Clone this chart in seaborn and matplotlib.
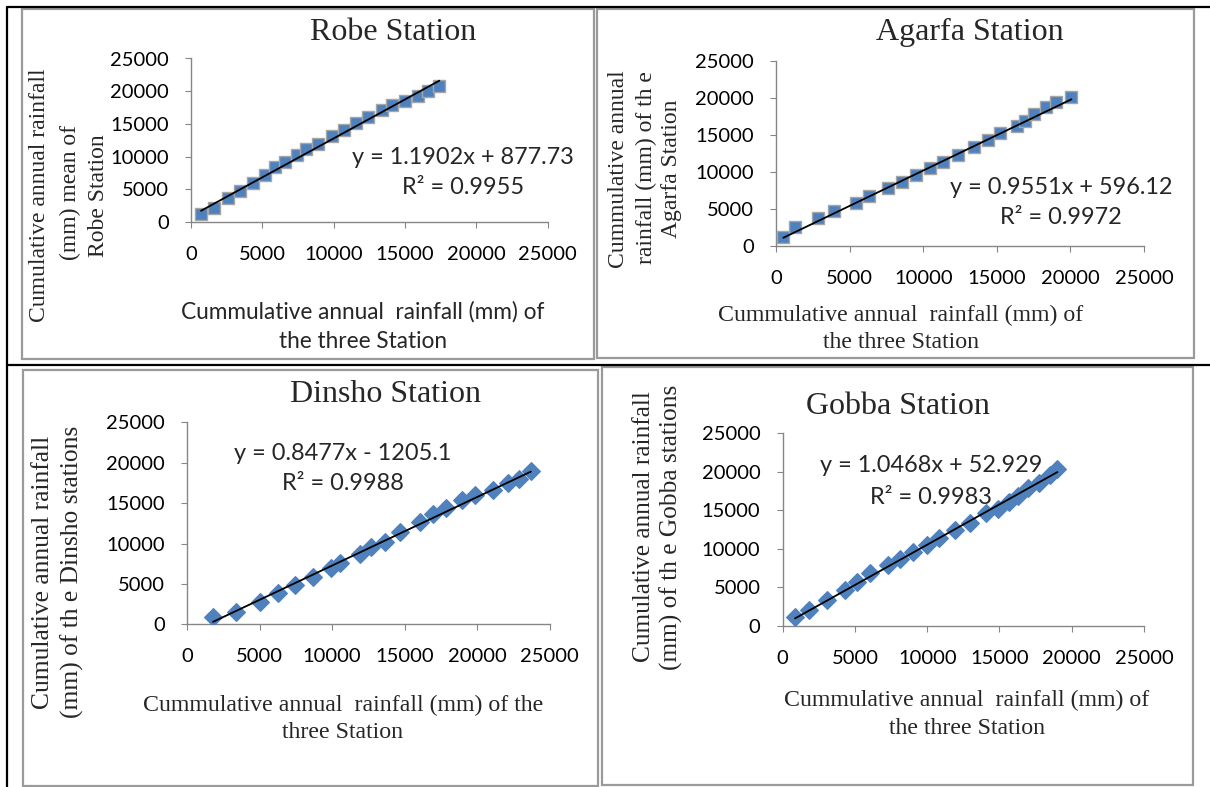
import numpy as np
import pandas as pd
import seaborn as sns
import matplotlib
matplotlib.use("Agg")
import matplotlib.pyplot as plt
from matplotlib.patches import Rectangle
from matplotlib.lines import Line2D

# ---------------- data ----------------
tick_values = [0, 5000, 10000, 15000, 20000, 25000]
tick_labels = ["0", "5000", "10000", "15000", "20000", "25000"]

robe_x = [704, 1643, 2582, 3451, 4319, 5164, 5915, 6573, 7405, 8099, 8920,
          9859, 10728, 11549, 12418, 13427, 14061, 15000, 15939, 16596, 17418]
robe_y = [1173, 2194, 3724, 4745, 6020, 7245, 8418, 9184, 10204, 11224, 11990,
          13112, 14133, 15153, 16071, 17092, 17959, 18520, 19286, 20051, 20816]

agarfa_x = [498, 1290, 2873, 3937, 5430, 6335, 7624, 8529, 9502, 10452, 11357,
            12376, 13439, 14412, 15204, 16380, 16900, 17511, 18371, 19050, 20068]
agarfa_y = [1126, 2568, 3694, 4730, 5811, 6757, 7838, 8559, 9550, 10450, 11351,
            12252, 13378, 14279, 15180, 16171, 16892, 17793, 18784, 19459, 20135]

dinsho_x = [1792, 3401, 5055, 6250, 7468, 8686, 9926, 10570, 11949, 12684, 13672,
            14706, 16039, 16958, 17877, 18957, 19876, 21071, 22128, 22863, 23713]
dinsho_y = [868, 1570, 2810, 3843, 4876, 5826, 6942, 7645, 8678, 9545, 10248,
            11488, 12727, 13678, 14380, 15413, 16033, 16653, 17479, 17975, 18926]

gobba_x = [853, 1845, 3045, 4314, 5167, 6044, 7313, 8120, 8997, 9965, 10842,
           11926, 12964, 14071, 14925, 15686, 16309, 17001, 17762, 18500, 19007]
gobba_y = [1169, 2035, 3333, 4632, 5714, 6797, 7879, 8615, 9610, 10476, 11342,
           12424, 13290, 14589, 15108, 16104, 16840, 17835, 18571, 19567, 20303]

# trendline coefficients: slope, intercept, R²
robe_fit = (1.1902, 877.73, 0.9955)
agarfa_fit = (0.9551, 596.12, 0.9972)
dinsho_fit = (0.8477, -1205.1, 0.9988)
gobba_fit = (1.0468, 52.929, 0.9983)

titles = ["Robe Station", "Agarfa Station", "Dinsho Station", "Gobba Station"]

# ---------------- figure ----------------
sns.set_theme(style="white")
plt.rcParams["font.family"] = ["Lato", "DejaVu Sans"]

W, H = 1210, 787
fig = plt.figure(figsize=(W / 100, H / 100), dpi=100)
fig.patch.set_facecolor("white")

SERIF = ["Liberation Serif", "DejaVu Serif"]
SANS = ["Lato", "DejaVu Sans"]
BLUE = "#4F81BD"
AXIS_GRAY = "#868686"


def fx(x):
    return x / W


def fy(y):
    return 1 - y / H


def make_axes(x0, x1, ytop, ybot):
    return fig.add_axes([fx(x0), fy(ybot), (x1 - x0) / W, (ybot - ytop) / H])


def style_axes(ax):
    ax.set_xlim(0, 25000)
    ax.set_ylim(0, 25000)
    ax.set_xticks(tick_values)
    ax.set_xticklabels(tick_labels)
    ax.set_yticks(tick_values)
    ax.set_yticklabels(tick_labels)
    ax.set_facecolor("none")
    for side in ("top", "right"):
        ax.spines[side].set_visible(False)
    for side in ("left", "bottom"):
        ax.spines[side].set_color(AXIS_GRAY)
        ax.spines[side].set_linewidth(1.0)
    ax.tick_params(axis="both", which="major", direction="out", length=4,
                   width=0.8, color=AXIS_GRAY, labelsize=14.5,
                   labelcolor="black", bottom=True, left=True)
    ax.tick_params(axis="y", pad=12)
    ax.tick_params(axis="x", pad=13.3)
    for lab in ax.get_xticklabels() + ax.get_yticklabels():
        lab.set_fontfamily(SANS)
    ax.set_xlabel("")
    ax.set_ylabel("")
    ax.grid(False)


def draw_station(ax, xs, ys, fit, marker, msize, edge):
    df = pd.DataFrame({"x": xs, "y": ys})
    slope, intercept, _ = fit
    xl = np.array([min(xs), max(xs)], dtype=float)
    line_df = pd.DataFrame({"x": xl, "y": slope * xl + intercept})
    sns.scatterplot(data=df, x="x", y="y", ax=ax, marker=marker, s=msize,
                    color=BLUE, edgecolor=edge, linewidth=1.0, zorder=3,
                    legend=False)
    sns.lineplot(data=line_df, x="x", y="y", ax=ax, color="black",
                 linewidth=1.3, zorder=4, legend=False)


def fit_text(fit, cx, y1, y2, size=16.9):
    slope, intercept, r2 = fit
    sign = "+" if intercept >= 0 else "-"
    eq = f"y = {slope:.4f}x {sign} {abs(intercept):g}"
    fig.text(fx(cx), fy(y1), eq, ha="center", va="center", fontsize=size,
             family=SANS, zorder=10)
    fig.text(fx(cx), fy(y2), f"R\u00b2 = {r2:.4f}", ha="center", va="center",
             fontsize=size, family=SANS, zorder=10)


def lines_text(lines, xs, ys, family, size, rotation=0):
    for t, x, y in zip(lines, xs, ys):
        fig.text(fx(x), fy(y), t, ha="center", va="center", rotation=rotation,
                 fontsize=size, family=family)


# ---- frames: table rules and chart borders ----
frame_ax = fig.add_axes([0, 0, 1, 1])
frame_ax.set_xlim(0, W)
frame_ax.set_ylim(H, 0)
frame_ax.axis("off")
for (x0, y0, x1, y1) in [(21.7, 9, 594, 359), (597.3, 9, 1193.5, 358),
                         (23, 370, 598, 786), (602, 367, 1193, 785)]:
    frame_ax.add_patch(Rectangle((x0, y0), x1 - x0, y1 - y0, fill=False,
                                 edgecolor="#9A9A9A", linewidth=1.6))
frame_ax.add_line(Line2D([7, W], [7.3, 7.3], color="black", linewidth=1.6))
frame_ax.add_line(Line2D([7.3, 7.3], [7, H], color="black", linewidth=1.6))
frame_ax.add_line(Line2D([7, W], [364.5, 364.5], color="black", linewidth=1.6))

# ---- Robe ----
ax = make_axes(191, 547.5, 58.5, 222)
draw_station(ax, robe_x, robe_y, robe_fit, "s", 72, "#A6A6A6")
style_axes(ax)
fig.text(fx(393), fy(33), titles[0], ha="center", va="center", fontsize=23,
         family=SERIF)
lines_text(["Cumulative annual rainfall", "(mm) mean of", "Robe Station"],
           [40, 70, 98], [195, 193, 196], SERIF, 17, rotation=90)
lines_text(["Cummulative annual  rainfall (mm) of", "the three Station"],
           [363, 363], [312, 342], SANS, 16.3)
fit_text(robe_fit, 463, 157, 188)

# ---- Agarfa ----
ax = make_axes(776, 1144, 60.5, 245.7)
draw_station(ax, agarfa_x, agarfa_y, agarfa_fit, "s", 72, "#A6A6A6")
style_axes(ax)
fig.text(fx(970), fy(32), titles[1], ha="center", va="center", fontsize=23,
         family=SERIF)
lines_text(["Cummulative annual", "rainfall (mm) of th e", "Agarfa Station"],
           [618.5, 646, 671.5], [169, 168, 169], SERIF, 17, rotation=90)
lines_text(["Cummulative annual  rainfall (mm) of", "the three Station"],
           [901, 901], [315, 343], SERIF, 17.2)
fit_text(agarfa_fit, 1061, 187, 218)

# ---- Dinsho ----
ax = make_axes(187, 549.5, 422.3, 624.4)
draw_station(ax, dinsho_x, dinsho_y, dinsho_fit, "D", 80, BLUE)
style_axes(ax)
fig.text(fx(385), fy(395), titles[2], ha="center", va="center", fontsize=23,
         family=SERIF)
lines_text(["Cumulative annual rainfall", "(mm) of th e Dinsho stations"],
           [43, 72], [572, 572], SERIF, 18.4, rotation=90)
lines_text(["Cummulative annual  rainfall (mm) of the", "three Station"],
           [343, 343], [705, 732], SERIF, 17.2)
fit_text(dinsho_fit, 343, 453, 484)

# ---- Gobba ----
ax = make_axes(782.7, 1144, 433.2, 625.7)
draw_station(ax, gobba_x, gobba_y, gobba_fit, "D", 80, BLUE)
style_axes(ax)
fig.text(fx(898), fy(407), titles[3], ha="center", va="center", fontsize=23,
         family=SERIF)
lines_text(["Cumulative annual rainfall", "(mm) of th e Gobba stations"],
           [644, 671.5], [527, 527], SERIF, 18.3, rotation=90)
lines_text(["Cummulative annual  rainfall (mm) of", "the three Station"],
           [967, 967], [700, 728], SERIF, 17.2)
fit_text(gobba_fit, 931, 465, 497)

fig.savefig("out.png", dpi=100, facecolor="white")
